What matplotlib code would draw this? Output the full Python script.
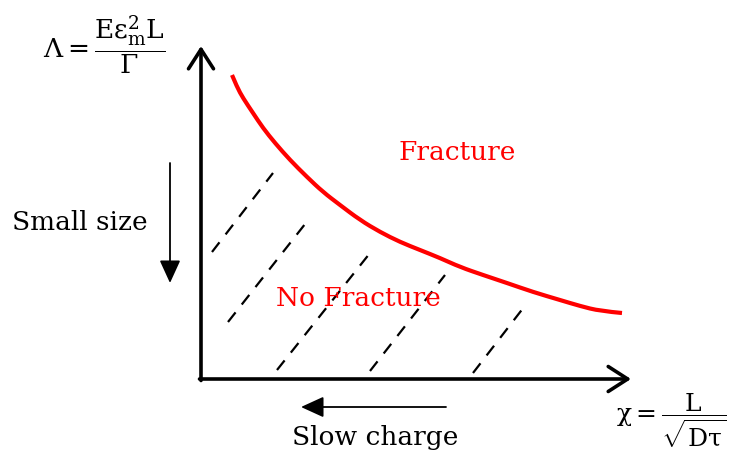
import matplotlib
matplotlib.use("Agg")
import matplotlib.pyplot as plt
from matplotlib.path import Path
from matplotlib.patches import PathPatch
import numpy as np

plt.rcParams['mathtext.fontset'] = 'custom'
plt.rcParams['mathtext.rm'] = 'DejaVu Serif'
plt.rcParams['mathtext.it'] = 'DejaVu Serif:italic'
plt.rcParams['mathtext.bf'] = 'DejaVu Serif:bold'

# Boundary curve between Fracture / No Fracture (x = chi, y = Lambda, arbitrary units)
curve_x = [31, 36, 42, 52, 62, 74, 89, 106, 122, 139, 159, 179, 199, 219, 239,
           259, 282, 306, 332, 359, 379, 399, 421]
curve_y = [304, 292, 281, 266, 251, 236, 219, 202, 187, 174, 159, 147, 137, 129, 121,
           112, 104, 96, 87, 79, 73, 68, 66]

# Dashed hatch lines in the No Fracture region: (x0, y0, x1, y1)
hatch_x0 = [11, 27, 76, 169, 272]
hatch_y0 = [127, 57, 9, 8, 6]
hatch_x1 = [72, 108, 169, 244, 323]
hatch_y1 = [206, 160, 126, 104, 72]

region_labels = ["Fracture", "No Fracture"]
region_x = [256, 157]
region_y = [226, 81]

fig = plt.figure(figsize=(7.30, 4.61), dpi=100)
ax = fig.add_axes([0, 0, 1, 1])
ax.set_xlim(-201, 529)
ax.set_ylim(-82, 379)
ax.axis('off')

# axes with open arrowheads
ax.annotate('', xy=(0, 333), xytext=(0, -1.5),
            arrowprops=dict(arrowstyle='->,head_length=0.7,head_width=0.45',
                            lw=2.6, color='black', mutation_scale=20, shrinkA=0, shrinkB=0))
ax.annotate('', xy=(430, 0), xytext=(-1.5, 0),
            arrowprops=dict(arrowstyle='->,head_length=0.7,head_width=0.45',
                            lw=2.6, color='black', mutation_scale=20, shrinkA=0, shrinkB=0))

# boundary curve: smooth quadratic path using the read points as control points
pts = np.column_stack([curve_x, curve_y]).astype(float)
verts = [pts[0]]
codes = [Path.MOVETO]
for i in range(1, len(pts) - 1):
    mid = (pts[i] + pts[i + 1]) / 2 if i < len(pts) - 2 else pts[i + 1]
    verts += [pts[i], mid]
    codes += [Path.CURVE3, Path.CURVE3]
ax.add_patch(PathPatch(Path(verts, codes), fill=False, edgecolor='#ff0000', lw=3.0,
                       capstyle='butt'))

# hatch lines
for x0, y0, x1, y1 in zip(hatch_x0, hatch_y0, hatch_x1, hatch_y1):
    ax.plot([x0, x1], [y0, y1], color='black', lw=1.6, linestyle=(0, (5.5, 4.5)))

for lab, x, y in zip(region_labels, region_x, region_y):
    ax.text(x, y, lab, color='#ff0000', fontsize=19, family='DejaVu Serif',
            ha='center', va='center')

# "Small size" arrow
ax.annotate('', xy=(-31, 96), xytext=(-31, 216),
            arrowprops=dict(arrowstyle='-|>,head_length=0.7,head_width=0.32',
                            lw=1.3, color='black', mutation_scale=20, shrinkA=0, shrinkB=0,
                            fc='black'))
ax.text(-121, 157, "Small size", fontsize=19, family='DejaVu Serif', ha='center', va='center')

# "Slow charge" arrow
ax.annotate('', xy=(100, -28), xytext=(245, -28),
            arrowprops=dict(arrowstyle='-|>,head_length=0.7,head_width=0.32',
                            lw=1.3, color='black', mutation_scale=20, shrinkA=0, shrinkB=0,
                            fc='black'))
ax.text(174, -58, "Slow charge", fontsize=19, family='DejaVu Serif', ha='center', va='center')

# formulas
ax.text(-97, 334, r'$\Lambda = \dfrac{\mathrm{E}\mathrm{\varepsilon}_{\mathrm{m}}^{2}\mathrm{L}}{\Gamma}$',
        fontsize=19, ha='center', va='center')
ax.text(470, -42, r'$\mathrm{\chi} = \dfrac{\mathrm{L}}{\sqrt{\mathrm{D\tau}}}$',
        fontsize=18, ha='center', va='center')

fig.savefig('out.png', dpi=100)
